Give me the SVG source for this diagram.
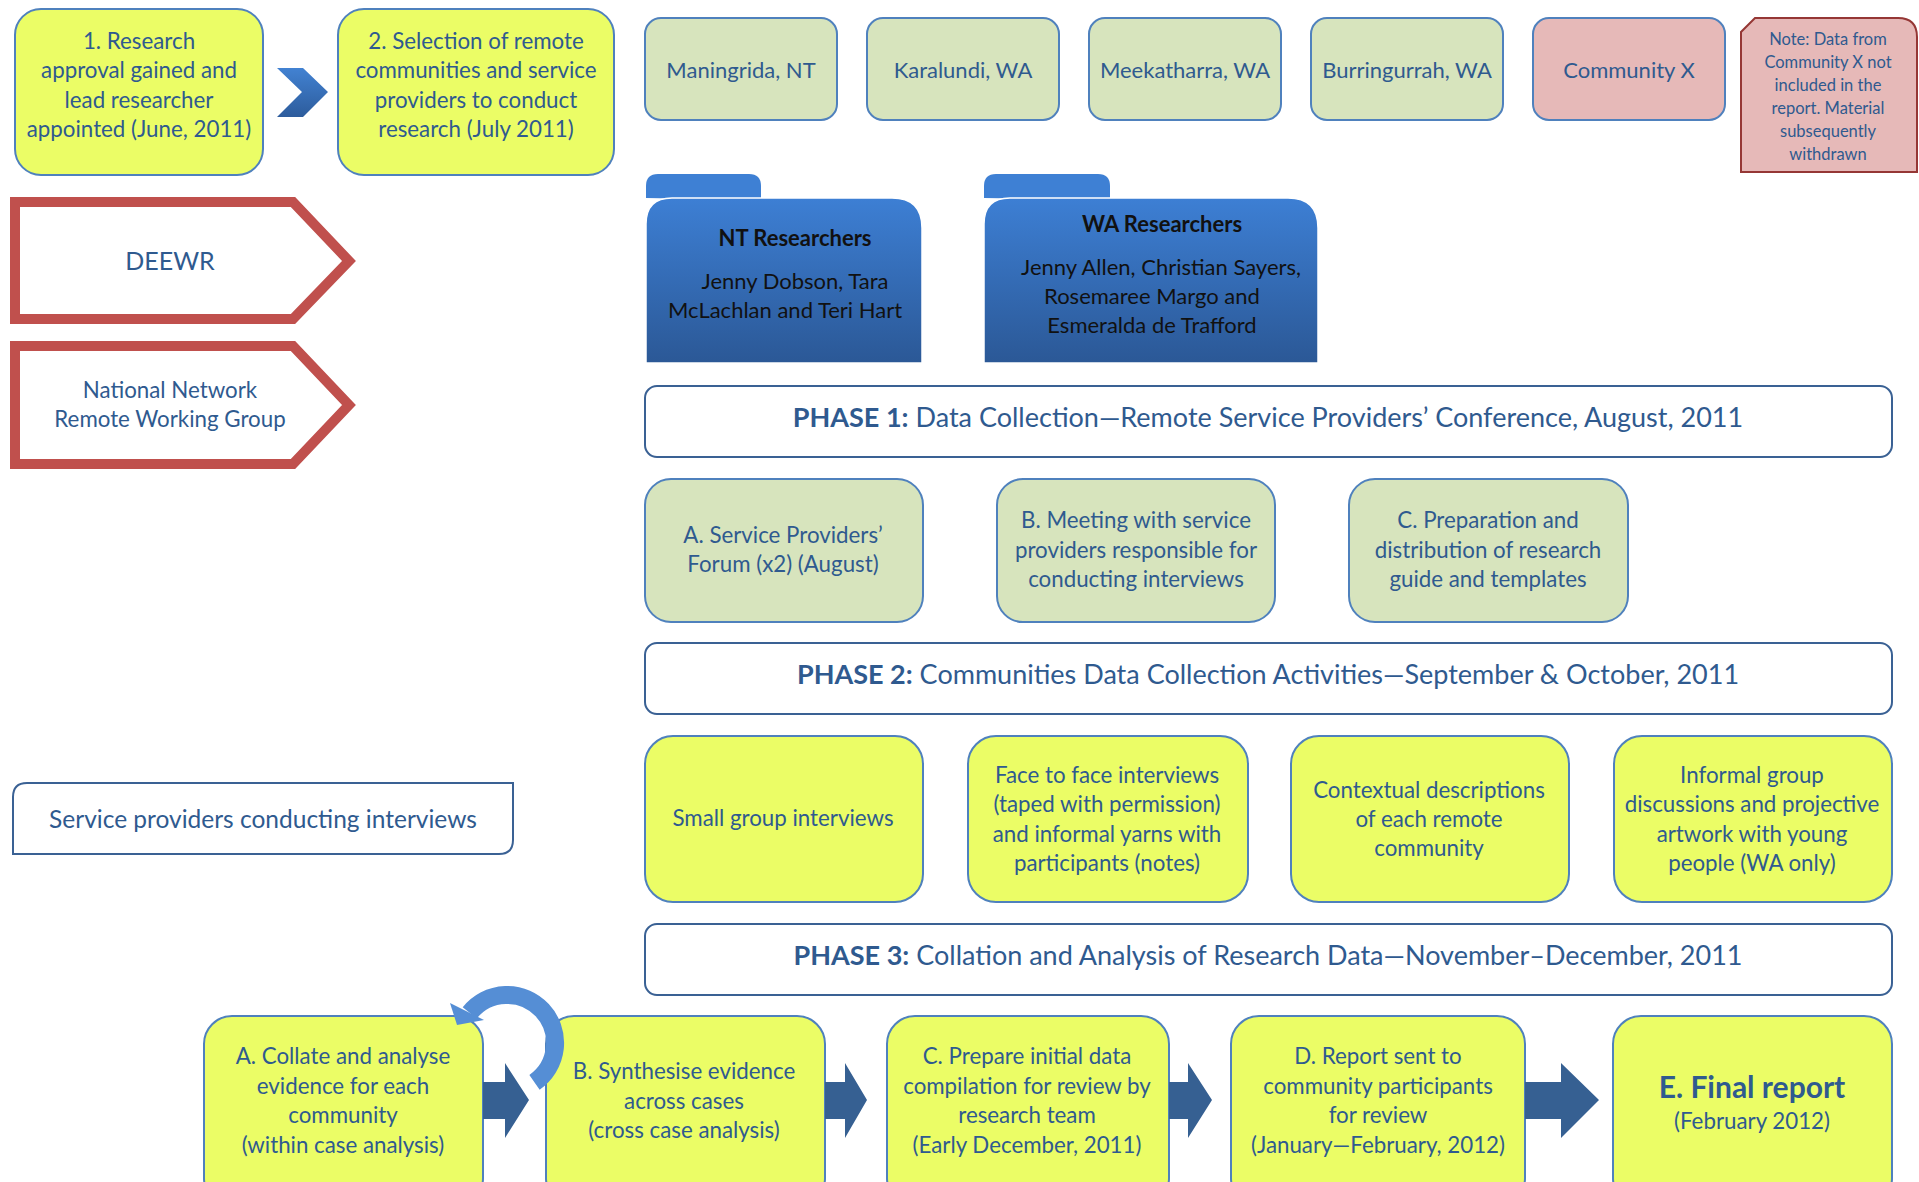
<svg xmlns="http://www.w3.org/2000/svg" width="1919" height="1182" viewBox="0 0 1919 1182">
<defs>
<linearGradient id="gFolder" x1="0" y1="0" x2="0" y2="1">
<stop offset="0" stop-color="#3D7FD4"/>
<stop offset="1" stop-color="#2B5896"/>
</linearGradient>
<linearGradient id="gChev" x1="0" y1="0" x2="0" y2="1">
<stop offset="0" stop-color="#4282D2"/>
<stop offset="1" stop-color="#2D5C9C"/>
</linearGradient>
<style>
.t{font-family:Lato,"Open Sans","Liberation Sans",sans-serif;fill:#2F5A8F;text-anchor:middle}
.s21{font-size:22.3px}
.s22{font-size:22px}
.b{font-weight:bold}
.yel{fill:#EBFD66;stroke:#4F81BD;stroke-width:2}
.grn{fill:#D7E4BD;stroke:#4F81BD;stroke-width:2}
.pnk{fill:#E6B9B8;stroke:#4F81BD;stroke-width:2}
.phase{fill:#FFFFFF;stroke:#3A6194;stroke-width:2}
.ph{font-size:27px}
.red{fill:#FFFFFF;stroke:#C0504D;stroke-width:10}
.blk{font-family:Lato,"Open Sans","Liberation Sans",sans-serif;fill:#111111;text-anchor:middle;font-size:22px}
.barrow{fill:#366092}
</style>
</defs>
<rect width="1919" height="1182" fill="#FFFFFF"/>

<g id="step1"><rect class="yel" x="15" y="9" width="248" height="166" rx="26"/>
<text class="t s21"><tspan x="139" y="49">1. Research</tspan><tspan x="139" y="78">approval gained and</tspan><tspan x="139" y="108">lead researcher</tspan><tspan x="139" y="137">appointed (June, 2011)</tspan></text></g>

<g id="step2"><rect class="yel" x="338" y="9" width="276" height="166" rx="26"/>
<text class="t s21"><tspan x="476" y="49">2. Selection of remote</tspan><tspan x="476" y="78">communities and service</tspan><tspan x="476" y="108">providers to conduct</tspan><tspan x="476" y="137">research (July 2011)</tspan></text></g>

<g id="c-maningrida"><rect class="grn" x="645" y="18" width="192" height="102" rx="16"/><text class="t s22" x="741" y="78">Maningrida, NT</text></g>
<g id="c-karalundi"><rect class="grn" x="867" y="18" width="192" height="102" rx="16"/><text class="t s22" x="963" y="78">Karalundi, WA</text></g>
<g id="c-meekatharra"><rect class="grn" x="1089" y="18" width="192" height="102" rx="16"/><text class="t s22" x="1185" y="78">Meekatharra, WA</text></g>
<g id="c-burringurrah"><rect class="grn" x="1311" y="18" width="192" height="102" rx="16"/><text class="t s22" x="1407" y="78">Burringurrah, WA</text></g>
<g id="c-communityx"><rect class="pnk" x="1533" y="18" width="192" height="102" rx="16"/><text class="t s22" x="1629" y="78">Community X</text></g>

<g id="note"><path d="M1755,18 L1898,18 Q1917,18 1917,37 L1917,172 L1741,172 L1741,32 Z" fill="#E6B9B8" stroke="#953735" stroke-width="2"/>
<text class="t" style="font-size:16.5px"><tspan x="1828" y="45">Note: Data from</tspan><tspan x="1828" y="68">Community X not</tspan><tspan x="1828" y="91">included in the</tspan><tspan x="1828" y="114">report. Material</tspan><tspan x="1828" y="137">subsequently</tspan><tspan x="1828" y="160">withdrawn</tspan></text></g>

<g id="deewr"><path class="red" d="M15,202 L293,202 L349,261 L293,319 L15,319 Z"/><text class="t" style="font-size:25px" x="170" y="270">DEEWR</text></g>
<g id="nnrwg"><path class="red" d="M15,346 L293,346 L349,405 L293,464 L15,464 Z"/>
<text class="t s21"><tspan x="170" y="398">National Network</tspan><tspan x="170" y="427">Remote Working Group</tspan></text></g>

<g id="nt-researchers">
<path d="M646,198 L646,186 Q646,174 658,174 L749,174 Q761,174 761,186 L761,200 Z" fill="#3E80D4"/>
<path d="M646,363 L646,224 Q646,198 672,198 L892,198 Q922,198 922,228 L922,363 Z" fill="url(#gFolder)" stroke="#FFFFFF" stroke-width="1.5"/>
<text class="blk b" x="795" y="246">NT Researchers</text>
<text class="blk"><tspan x="795" y="289">Jenny Dobson, Tara</tspan><tspan x="785" y="318">McLachlan and Teri Hart</tspan></text>
</g>
<g id="wa-researchers">
<path d="M984,198 L984,186 Q984,174 996,174 L1098,174 Q1110,174 1110,186 L1110,200 Z" fill="#3E80D4"/>
<path d="M984,363 L984,224 Q984,198 1010,198 L1288,198 Q1318,198 1318,228 L1318,363 Z" fill="url(#gFolder)" stroke="#FFFFFF" stroke-width="1.5"/>
<text class="blk b" x="1162" y="232">WA Researchers</text>
<text class="blk"><tspan x="1161" y="275">Jenny Allen, Christian Sayers,</tspan><tspan x="1152" y="304">Rosemaree Margo and</tspan><tspan x="1152" y="333">Esmeralda de Trafford</tspan></text>
</g>

<g id="phase1"><rect class="phase" x="645" y="386" width="1247" height="71" rx="12"/>
<text class="t ph" x="1268" y="427"><tspan class="b">PHASE 1:</tspan> Data Collection—Remote Service Providers’ Conference, August, 2011</text></g>

<g id="p1-a"><rect class="grn" x="645" y="479" width="278" height="143" rx="26"/>
<text class="t s21"><tspan x="783" y="543">A. Service Providers’</tspan><tspan x="783" y="572">Forum (x2) (August)</tspan></text></g>
<g id="p1-b"><rect class="grn" x="997" y="479" width="278" height="143" rx="26"/>
<text class="t s21"><tspan x="1136" y="528">B. Meeting with service</tspan><tspan x="1136" y="558">providers responsible for</tspan><tspan x="1136" y="587">conducting interviews</tspan></text></g>
<g id="p1-c"><rect class="grn" x="1349" y="479" width="279" height="143" rx="26"/>
<text class="t s21"><tspan x="1488" y="528">C. Preparation and</tspan><tspan x="1488" y="558">distribution of research</tspan><tspan x="1488" y="587">guide and templates</tspan></text></g>

<g id="phase2"><rect class="phase" x="645" y="643" width="1247" height="71" rx="12"/>
<text class="t ph" x="1268" y="684"><tspan class="b">PHASE 2:</tspan> Communities Data Collection Activities—September &amp; October, 2011</text></g>

<g id="p2-a"><rect class="yel" x="645" y="736" width="278" height="166" rx="28"/>
<text class="t s21" x="783" y="826">Small group interviews</text></g>
<g id="p2-b"><rect class="yel" x="968" y="736" width="280" height="166" rx="28"/>
<text class="t s21"><tspan x="1107" y="783">Face to face interviews</tspan><tspan x="1107" y="812">(taped with permission)</tspan><tspan x="1107" y="842">and informal yarns with</tspan><tspan x="1107" y="871">participants (notes)</tspan></text></g>
<g id="p2-c"><rect class="yel" x="1291" y="736" width="278" height="166" rx="28"/>
<text class="t s21"><tspan x="1429" y="798">Contextual descriptions</tspan><tspan x="1429" y="827">of each remote</tspan><tspan x="1429" y="856">community</tspan></text></g>
<g id="p2-d"><rect class="yel" x="1614" y="736" width="278" height="166" rx="28"/>
<text class="t s21"><tspan x="1752" y="783">Informal group</tspan><tspan x="1752" y="812">discussions and projective</tspan><tspan x="1752" y="842">artwork with young</tspan><tspan x="1752" y="871">people (WA only)</tspan></text></g>

<g id="service-providers"><path d="M27,783 L513,783 L513,840 Q513,854 499,854 L13,854 L13,797 Q13,783 27,783 Z" fill="#FFFFFF" stroke="#3A6194" stroke-width="2"/>
<text class="t" style="font-size:24.5px" x="263" y="828">Service providers conducting interviews</text></g>

<g id="phase3"><rect class="phase" x="645" y="924" width="1247" height="71" rx="12"/>
<text class="t ph" x="1268" y="965"><tspan class="b">PHASE 3:</tspan> Collation and Analysis of Research Data—November–December, 2011</text></g>

<g id="p3-a"><rect class="yel" x="204" y="1016" width="279" height="190" rx="28"/>
<text class="t s21"><tspan x="343" y="1064">A. Collate and analyse</tspan><tspan x="343" y="1094">evidence for each</tspan><tspan x="343" y="1123">community</tspan><tspan x="343" y="1153">(within case analysis)</tspan></text></g>
<g id="p3-b"><rect class="yel" x="546" y="1016" width="279" height="190" rx="28"/>
<text class="t s21"><tspan x="684" y="1079">B. Synthesise evidence</tspan><tspan x="684" y="1109">across cases</tspan><tspan x="684" y="1138">(cross case analysis)</tspan></text></g>
<g id="p3-c"><rect class="yel" x="887" y="1016" width="282" height="190" rx="28"/>
<text class="t s21"><tspan x="1027" y="1064">C. Prepare initial data</tspan><tspan x="1027" y="1094">compilation for review by</tspan><tspan x="1027" y="1123">research team</tspan><tspan x="1027" y="1153">(Early December, 2011)</tspan></text></g>
<g id="p3-d"><rect class="yel" x="1231" y="1016" width="294" height="190" rx="28"/>
<text class="t s21"><tspan x="1378" y="1064">D. Report sent to</tspan><tspan x="1378" y="1094">community participants</tspan><tspan x="1378" y="1123">for review</tspan><tspan x="1378" y="1153">(January—February, 2012)</tspan></text></g>
<g id="p3-e"><rect class="yel" x="1613" y="1016" width="279" height="190" rx="28"/>
<text class="t b" style="font-size:30px" x="1752" y="1098">E. Final report</text>
<text class="t s21" x="1752" y="1129">(February 2012)</text></g>

<g id="connectors">
<polygon points="277,68 303,68 328,92 303,117 277,117 302,92" fill="url(#gChev)"/>
<polygon class="barrow" points="483,1082 505,1082 505,1063 529,1100 505,1138 505,1119 483,1119"/>
<polygon class="barrow" points="825,1082 845,1082 845,1063 867,1100 845,1138 845,1119 825,1119"/>
<polygon class="barrow" points="1169,1082 1188,1082 1188,1063 1212,1100 1188,1138 1188,1119 1169,1119"/>
<polygon class="barrow" points="1525,1082 1561,1082 1561,1063 1599,1100 1561,1138 1561,1119 1525,1119"/>
<path d="M534.5,1082.3 A48,48 0 1 0 469.7,1012.8" fill="none" stroke="#558ED5" stroke-width="18"/>
<polygon points="450,1003 484,1020 457,1025" fill="#558ED5"/>
</g>
</svg>
